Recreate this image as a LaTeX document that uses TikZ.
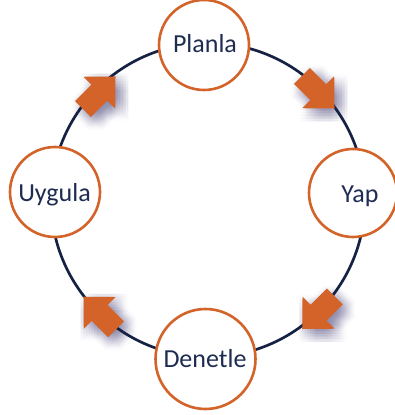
\documentclass[tikz,border=0pt]{standalone}
\usepackage{fontspec}
\setmainfont{Carlito}

\definecolor{cycleorange}{RGB}{211,99,40}
\definecolor{ringnavy}{RGB}{22,34,68}
\definecolor{labelnavy}{RGB}{30,44,82}
\definecolor{shadowtint}{RGB}{62,56,112}

\tikzset{
  ring/.style={circle, draw=ringnavy, line width=2.7pt, inner sep=0pt},
  stage/.style={circle, draw=cycleorange, line width=2.6pt, fill=white, inner sep=0pt},
  stagetext/.style={anchor=base, text=labelnavy, inner sep=0pt,
                    font=\fontsize{26}{31}\selectfont},
}

% block arrow centred at (#1,#2), pointing at angle #3, with a soft drop shadow
\newcommand\cyclearrow[3]{%
  \foreach \dx in {-8,-5.3,-2.7,0,2.7,5.3,8}{%
    \foreach \dy in {-8,-5.3,-2.7,0,2.7,5.3,8}{%
      \fill[shadowtint, opacity=0.018, shift={(#1+5+\dx,#2-5+\dy)}, rotate=#3]
        (23,0) -- (0,22.6) -- (0,11.3) -- (-23,11.3) -- (-23,-11.3)
        -- (0,-11.3) -- (0,-22.6) -- cycle;
    }%
  }%
  \fill[cycleorange, shift={(#1,#2)}, rotate=#3]
    (23,0) -- (0,22.6) -- (0,11.3) -- (-23,11.3) -- (-23,-11.3)
    -- (0,-11.3) -- (0,-22.6) -- cycle;
}

\begin{document}
\begin{tikzpicture}[x=1pt, y=1pt]
  \useasboundingbox (0,0) rectangle (395,415);

  % the cycle
  \node[ring, minimum size=314pt] (cyclering) at (208,215) {};

  % direction arrows on the ring
  \cyclearrow{99.25}{322.25}{45}
  \cyclearrow{318.25}{322.75}{-45}
  \cyclearrow{318.5}{102.25}{-135}
  \cyclearrow{99.75}{102}{135}

  % stages
  \node[stage, minimum size=90pt]  (planla)  at (204,370)   {};
  \node[stage, minimum size=88pt]  (yap)     at (353,222)   {};
  \node[stage, minimum size=100pt] (denetle) at (205.5,56)  {};
  \node[stage, minimum size=90pt]  (uygula)  at (55,223)    {};

  \node[stagetext] (planlalabel)  at (205,362)  {Planla};
  \node[stagetext] (yaplabel)     at (360,212)  {Yap};
  \node[stagetext] (denetlelabel) at (205,47)   {Denetle};
  \node[stagetext] (uygulalabel)  at (54.5,213) {Uygula};
\end{tikzpicture}
\end{document}
